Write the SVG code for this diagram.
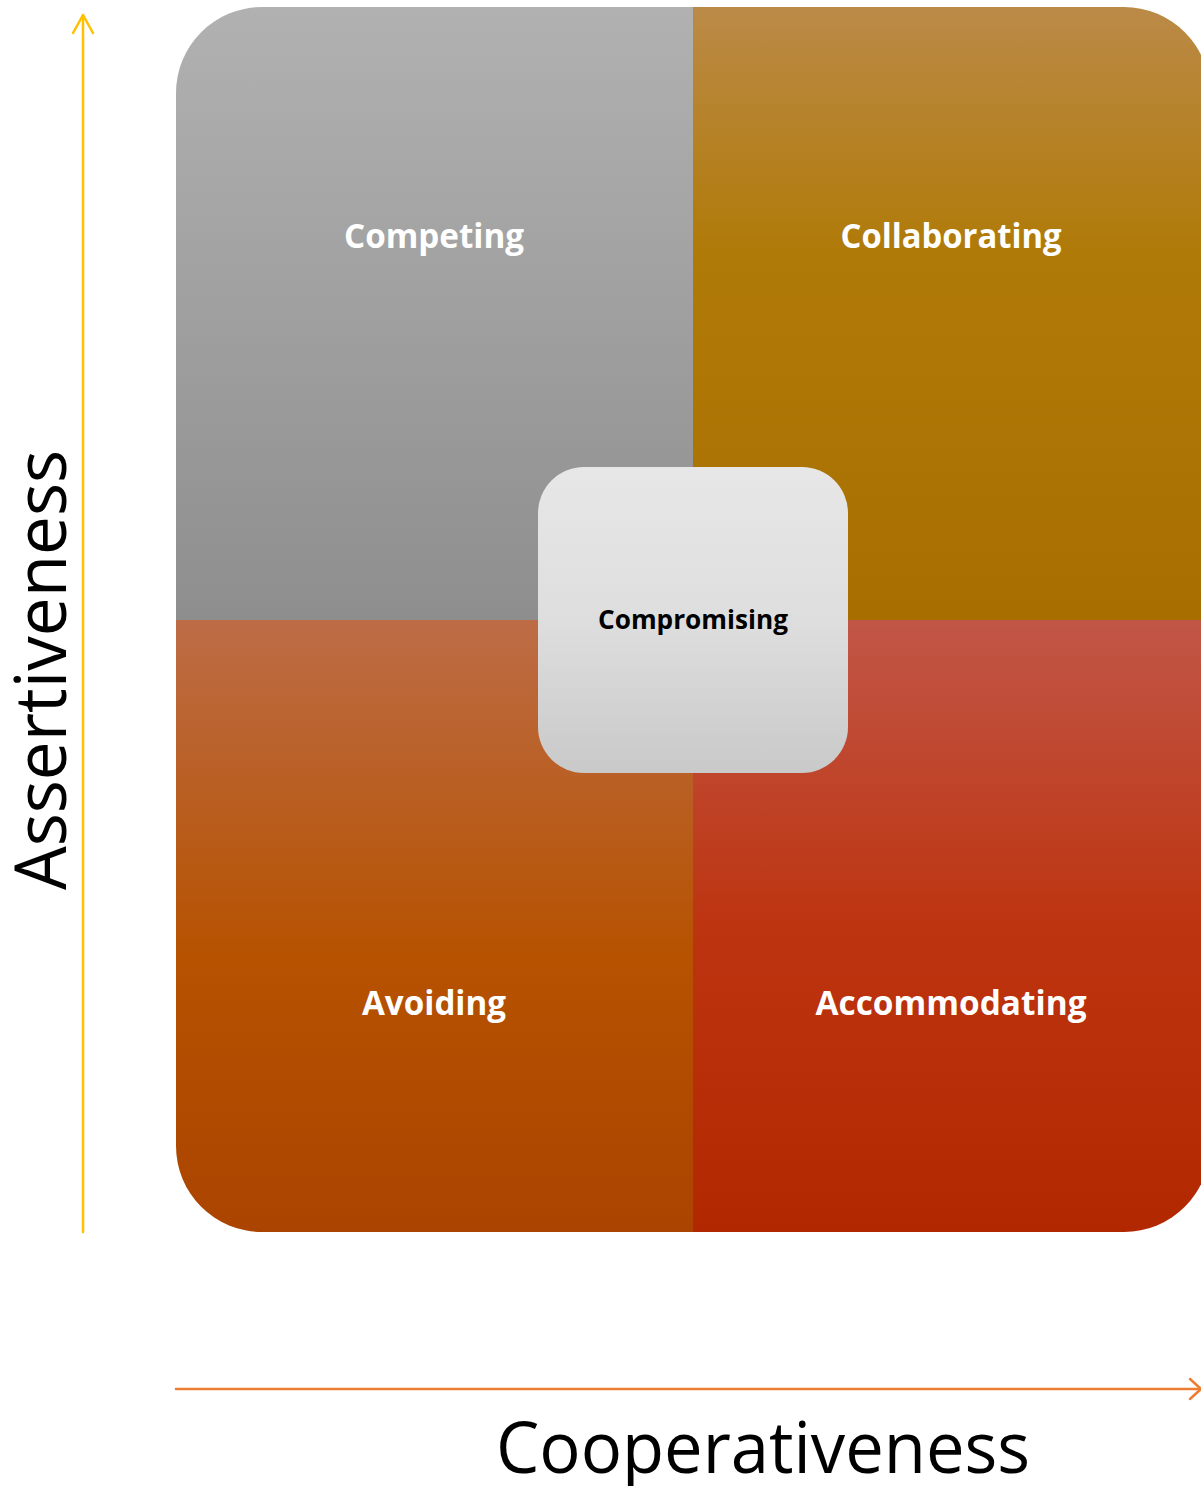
<svg xmlns="http://www.w3.org/2000/svg" width="1201" height="1486" viewBox="0 0 1201 1486">
  <style>
    .quad-label { font-family: "Open Sans", "Liberation Sans", sans-serif; font-weight: bold; font-size: 34px; fill: #ffffff; text-anchor: middle; }
    .center-label { font-family: "Open Sans", "Liberation Sans", sans-serif; font-weight: bold; font-size: 27px; fill: #000000; text-anchor: middle; }
    .axis-label { font-family: "Open Sans", "Liberation Sans", sans-serif; font-size: 72px; fill: #000000; text-anchor: middle; }
    .axis { fill: none; stroke-width: 2.5; stroke-linecap: round; stroke-linejoin: round; }
  </style>
  <defs>
    <clipPath id="matrixClip">
      <rect x="176" y="7" width="1034" height="1225" rx="86" ry="86"/>
    </clipPath>
    <linearGradient id="gGray" x1="0" y1="0" x2="0" y2="1">
      <stop offset="0" stop-color="#b1b1b1"/>
      <stop offset="1" stop-color="#8e8e8e"/>
    </linearGradient>
    <linearGradient id="gGold" x1="0" y1="0" x2="0" y2="1">
      <stop offset="0" stop-color="#bb8a47"/>
      <stop offset="0.4" stop-color="#b07a08"/>
      <stop offset="1" stop-color="#a86f00"/>
    </linearGradient>
    <linearGradient id="gOrange" x1="0" y1="0" x2="0" y2="1">
      <stop offset="0" stop-color="#bd6c46"/>
      <stop offset="0.55" stop-color="#b65200"/>
      <stop offset="1" stop-color="#ab4400"/>
    </linearGradient>
    <linearGradient id="gRed" x1="0" y1="0" x2="0" y2="1">
      <stop offset="0" stop-color="#c15647"/>
      <stop offset="0.5" stop-color="#bd3410"/>
      <stop offset="1" stop-color="#b12800"/>
    </linearGradient>
    <linearGradient id="gCenter" x1="0" y1="0" x2="0" y2="1">
      <stop offset="0" stop-color="#e7e7e7"/>
      <stop offset="0.5" stop-color="#dedede"/>
      <stop offset="1" stop-color="#c9c9c9"/>
    </linearGradient>
  </defs>

  <!-- four quadrants of the conflict-style grid -->
  <g clip-path="url(#matrixClip)">
    <g id="competing">
      <rect x="176" y="7" width="517" height="613" fill="url(#gGray)"/>
      <text class="quad-label" x="434" y="248" textLength="180" lengthAdjust="spacingAndGlyphs">Competing</text>
    </g>
    <g id="collaborating">
      <rect x="693" y="7" width="517" height="613" fill="url(#gGold)"/>
      <text class="quad-label" x="951" y="248" textLength="221" lengthAdjust="spacingAndGlyphs">Collaborating</text>
    </g>
    <g id="avoiding">
      <rect x="176" y="620" width="517" height="612" fill="url(#gOrange)"/>
      <text class="quad-label" x="434" y="1015" textLength="144" lengthAdjust="spacingAndGlyphs">Avoiding</text>
    </g>
    <g id="accommodating">
      <rect x="693" y="620" width="517" height="612" fill="url(#gRed)"/>
      <text class="quad-label" x="951" y="1015" textLength="271" lengthAdjust="spacingAndGlyphs">Accommodating</text>
    </g>
  </g>

  <!-- centre box -->
  <g id="compromising">
    <rect x="538" y="467" width="310" height="306" rx="46" ry="46" fill="url(#gCenter)"/>
    <text class="center-label" x="693" y="629" textLength="190" lengthAdjust="spacingAndGlyphs">Compromising</text>
  </g>

  <!-- axes -->
  <g id="connectors">
    <g id="axis-assertiveness">
      <line class="axis" x1="83" y1="1232" x2="83" y2="15" stroke="#ffc000"/>
      <polyline class="axis" points="73,33 83,15 93,33" stroke="#ffc000"/>
    </g>
    <g id="axis-cooperativeness">
      <line class="axis" x1="176" y1="1389" x2="1201" y2="1389" stroke="#ed7d31"/>
      <polyline class="axis" points="1190,1379 1201,1389 1190,1399" stroke="#ed7d31"/>
    </g>
  </g>

  <g id="axis-labels">
    <text class="axis-label" transform="translate(66,670) rotate(-90)" x="0" y="0" textLength="440" lengthAdjust="spacingAndGlyphs">Assertiveness</text>
    <text class="axis-label" x="763" y="1473" textLength="534" lengthAdjust="spacingAndGlyphs">Cooperativeness</text>
  </g>
</svg>
